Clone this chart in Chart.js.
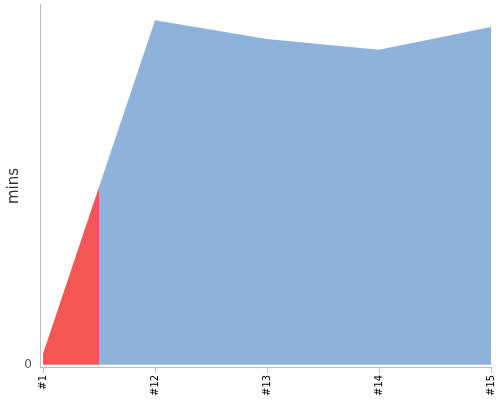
<!DOCTYPE html>
<html>

<head>
    <title>Build time trend</title>
    <script src="https://cdn.jsdelivr.net/npm/chart.js"></script>
    <style>
        body { margin: 0; background: #fff; }
        .trend-chart { width: 500px; height: 400px; }
    </style>
</head>

<body>
    <div class="trend-chart">
        <canvas id="chart"></canvas>
    </div>

    <script type="text/javascript">
        // build numbers, durations (mins) and result of each build
        const builds = ['#1', '#12', '#13', '#14', '#15']
        const durations = [0.3, 9.55, 9.03, 8.73, 9.36]
        const results = ['failed', 'success', 'success', 'success', 'success']

        const resultColors = { failed: '#f45656', success: '#8fb2da' }

        // each build's colour reaches halfway to its neighbours
        function areaFill(context) {
            let chart = context.chart
            let area = chart.chartArea
            if (!area) return resultColors.success
            let x = chart.scales.x
            let g = chart.ctx.createLinearGradient(area.left, 0, area.right, 0)
            let w = area.right - area.left
            for (let i = 0; i < results.length; i++) {
                let c = resultColors[results[i]]
                let p = x.getPixelForValue(i)
                let from = i == 0 ? area.left : (x.getPixelForValue(i - 1) + p) / 2
                let to = i == results.length - 1 ? area.right : (x.getPixelForValue(i + 1) + p) / 2
                g.addColorStop(Math.min(1, Math.max(0, (from - area.left) / w)), c)
                g.addColorStop(Math.min(1, Math.max(0, (to - area.left) / w)), c)
            }
            return g
        }

        const ctx = document.getElementById('chart');
        let chart = new Chart(ctx, {
            type: 'line',
            data: {
                datasets: [{
                    label: 'duration',
                    data: durations.map((d, i) => ({ x: i, y: d })),
                    fill: 'origin',
                    backgroundColor: areaFill,
                    borderWidth: 0,
                    pointRadius: 0,
                    tension: 0
                }]
            },
            options: {
                responsive: true,
                maintainAspectRatio: false,
                animation: false,
                layout: { padding: { top: 4, right: 9, left: 5, bottom: 2 } },
                plugins: {
                    legend: { display: false },
                    tooltip: { enabled: false }
                },
                scales: {
                    x: {
                        type: 'linear',
                        min: -0.027,
                        max: builds.length - 1,
                        afterBuildTicks: axis => {
                            axis.ticks = builds.map((b, i) => ({ value: i }))
                        },
                        afterFit: axis => {
                            axis.paddingLeft = 0
                            axis.paddingRight = 0
                        },
                        grid: {
                            display: true,
                            drawOnChartArea: false,
                            tickLength: 5,
                            color: '#bbb'
                        },
                        border: { color: '#bbb' },
                        ticks: {
                            minRotation: 90,
                            maxRotation: 90,
                            autoSkip: false,
                            color: '#000',
                            font: { family: 'DejaVu Sans', size: 10 },
                            padding: 2,
                            callback: v => builds[v]
                        }
                    },
                    y: {
                        min: -0.09,
                        max: 10,
                        afterBuildTicks: axis => {
                            axis.ticks = [{ value: 0 }]
                        },
                        afterFit: axis => {
                            axis.width = 35
                            axis.paddingTop = 0
                        },
                        grid: { display: false, drawTicks: false },
                        border: { color: '#bbb' },
                        ticks: {
                            color: '#555',
                            font: { family: 'DejaVu Sans', size: 12 },
                            padding: 8
                        },
                        title: {
                            display: true,
                            text: 'mins',
                            color: '#333',
                            font: { family: 'DejaVu Sans', size: 15 },
                            padding: { top: 0, bottom: 2 }
                        }
                    }
                }
            }
        })
    </script>
</body>

</html>
